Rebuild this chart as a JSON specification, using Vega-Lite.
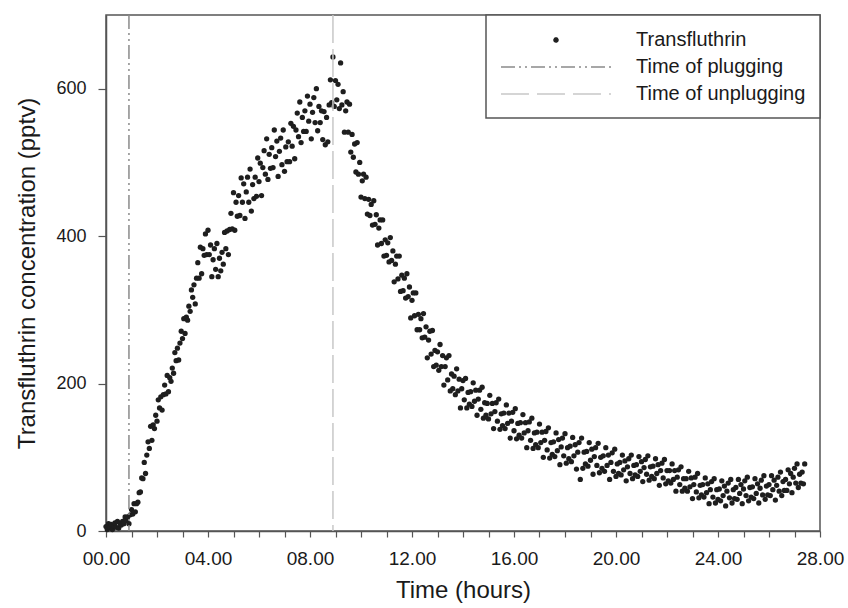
{
"$schema": "https://vega.github.io/schema/vega-lite/v6.json",
"width": 714, "height": 516,
"autosize": "none",
"padding": {"left": 106, "top": 15, "right": 28, "bottom": 77},
"background": "white",
"config": {"view": {"stroke": "#555", "strokeWidth": 1.5}, "font": "Liberation Sans"},
"datasets": {"obs": [
{"t":0,"c":6},{"t":0.05,"c":2},{"t":0.1,"c":10},{"t":0.15,"c":5},{"t":0.2,"c":9},{"t":0.25,"c":2},{"t":0.3,"c":7},{"t":0.35,"c":11},{"t":0.4,"c":5},{"t":0.45,"c":13},{"t":0.5,"c":4},{"t":0.55,"c":10},{"t":0.6,"c":8},{"t":0.65,"c":13},{"t":0.7,"c":10},{"t":0.75,"c":19},{"t":0.8,"c":14},{"t":0.85,"c":19},
{"t":0.9,"c":10},{"t":0.95,"c":22},{"t":1,"c":29},{"t":1.05,"c":23},{"t":1.1,"c":37},{"t":1.15,"c":26},{"t":1.2,"c":37},{"t":1.25,"c":39},{"t":1.3,"c":52},{"t":1.35,"c":53},{"t":1.4,"c":72},{"t":1.45,"c":71},
{"t":1.5,"c":93},{"t":1.55,"c":78},{"t":1.6,"c":103},{"t":1.65,"c":121},{"t":1.7,"c":112},{"t":1.75,"c":142},{"t":1.8,"c":123},{"t":1.85,"c":144},{"t":1.9,"c":139},{"t":1.95,"c":157},{"t":2,"c":149},{"t":2.05,"c":178},
{"t":2.1,"c":167},{"t":2.15,"c":182},{"t":2.2,"c":164},{"t":2.25,"c":185},{"t":2.3,"c":198},{"t":2.35,"c":186},{"t":2.4,"c":211},{"t":2.45,"c":189},
{"t":2.5,"c":208},{"t":2.55,"c":203},{"t":2.6,"c":221},{"t":2.65,"c":214},{"t":2.7,"c":242},{"t":2.75,"c":231},{"t":2.8,"c":248},{"t":2.85,"c":232},{"t":2.9,"c":255},{"t":2.95,"c":271},{"t":3,"c":261},{"t":3.05,"c":288},
{"t":3.1,"c":268},{"t":3.15,"c":290},{"t":3.2,"c":286},{"t":3.25,"c":305},{"t":3.3,"c":298},{"t":3.35,"c":327},{"t":3.4,"c":317},{"t":3.45,"c":334},{"t":3.5,"c":308},{"t":3.55,"c":343},{"t":3.6,"c":364},{"t":3.65,"c":343},
{"t":3.7,"c":385},{"t":3.75,"c":349},{"t":3.8,"c":383},{"t":3.85,"c":374},{"t":3.9,"c":403},{"t":3.95,"c":375},{"t":4,"c":408},{"t":4.05,"c":375},{"t":4.1,"c":388},{"t":4.15,"c":345},
{"t":4.2,"c":368},{"t":4.25,"c":383},{"t":4.3,"c":355},{"t":4.35,"c":390},{"t":4.4,"c":345},{"t":4.45,"c":370},{"t":4.5,"c":353},{"t":4.55,"c":378},{"t":4.6,"c":362},{"t":4.65,"c":405},{"t":4.7,"c":383},{"t":4.75,"c":407},
{"t":4.8,"c":375},{"t":4.85,"c":409},{"t":4.9,"c":431},{"t":4.95,"c":410},{"t":5,"c":459},{"t":5.05,"c":408},{"t":5.1,"c":446},{"t":5.15,"c":427},{"t":5.2,"c":455},{"t":5.25,"c":428},{"t":5.3,"c":479},{"t":5.35,"c":446},
{"t":5.4,"c":471},{"t":5.45,"c":424},{"t":5.5,"c":460},{"t":5.55,"c":480},{"t":5.6,"c":446},{"t":5.65,"c":491},{"t":5.7,"c":434},{"t":5.75,"c":470},{"t":5.8,"c":451},{"t":5.85,"c":480},{"t":5.9,"c":454},{"t":5.95,"c":506},
{"t":6,"c":474},{"t":6.05,"c":499},{"t":6.1,"c":455},{"t":6.15,"c":493},{"t":6.2,"c":516},{"t":6.25,"c":484},{"t":6.3,"c":532},{"t":6.35,"c":477},{"t":6.4,"c":511},{"t":6.45,"c":492},{"t":6.5,"c":520},{"t":6.55,"c":493},
{"t":6.6,"c":544},{"t":6.65,"c":508},{"t":6.7,"c":529},{"t":6.75,"c":481},{"t":6.8,"c":515},{"t":6.85,"c":533},{"t":6.9,"c":497},{"t":6.95,"c":544},{"t":7,"c":488},{"t":7.05,"c":521},{"t":7.1,"c":501},{"t":7.15,"c":528},
{"t":7.2,"c":501},{"t":7.25,"c":553},{"t":7.3,"c":522},{"t":7.35,"c":549},{"t":7.4,"c":505},{"t":7.45,"c":544},{"t":7.5,"c":567},{"t":7.55,"c":535},{"t":7.6,"c":582},{"t":7.65,"c":527},{"t":7.7,"c":561},{"t":7.75,"c":542},
{"t":7.8,"c":570},{"t":7.85,"c":542},{"t":7.9,"c":590},{"t":7.95,"c":556},{"t":8,"c":579},{"t":8.05,"c":532},{"t":8.1,"c":568},{"t":8.15,"c":588},{"t":8.2,"c":554},{"t":8.25,"c":600},{"t":8.3,"c":543},{"t":8.35,"c":576},
{"t":8.4,"c":554},{"t":8.45,"c":570},{"t":8.5,"c":531},{"t":8.55,"c":569},{"t":8.6,"c":524},{"t":8.65,"c":561},{"t":8.7,"c":528},{"t":8.75,"c":578},{"t":8.8,"c":612},{"t":8.85,"c":581},{"t":8.9,"c":643},{"t":8.95,"c":576},
{"t":9,"c":611},{"t":9.05,"c":585},{"t":9.1,"c":606},{"t":9.15,"c":573},{"t":9.2,"c":635},{"t":9.25,"c":578},{"t":9.3,"c":596},{"t":9.35,"c":541},{"t":9.4,"c":570},{"t":9.45,"c":582},{"t":9.5,"c":541},{"t":9.55,"c":579},
{"t":9.6,"c":514},{"t":9.65,"c":538},{"t":9.7,"c":507},{"t":9.75,"c":525},{"t":9.8,"c":487},{"t":9.85,"c":527},{"t":9.9,"c":484},{"t":9.95,"c":500},{"t":10,"c":453},{"t":10.05,"c":475},{"t":10.1,"c":484},{"t":10.15,"c":451},
{"t":10.2,"c":480},{"t":10.25,"c":430},{"t":10.3,"c":450},{"t":10.35,"c":428},{"t":10.4,"c":443},{"t":10.45,"c":415},{"t":10.5,"c":448},{"t":10.55,"c":416},{"t":10.6,"c":429},{"t":10.65,"c":388},{"t":10.7,"c":411},{"t":10.75,"c":422},
{"t":10.8,"c":390},{"t":10.85,"c":422},{"t":10.9,"c":373},{"t":10.95,"c":395},{"t":11,"c":374},{"t":11.05,"c":391},{"t":11.1,"c":365},{"t":11.15,"c":398},{"t":11.2,"c":367},{"t":11.25,"c":380},{"t":11.3,"c":338},{"t":11.35,"c":362},
{"t":11.4,"c":373},{"t":11.45,"c":342},{"t":11.5,"c":373},{"t":11.55,"c":325},{"t":11.6,"c":347},{"t":11.65,"c":326},{"t":11.7,"c":343},{"t":11.75,"c":316},{"t":11.8,"c":349},{"t":11.85,"c":318},{"t":11.9,"c":331},{"t":11.95,"c":289},
{"t":12,"c":313},{"t":12.05,"c":323},{"t":12.1,"c":292},{"t":12.15,"c":323},{"t":12.2,"c":273},{"t":12.25,"c":294},{"t":12.3,"c":273},{"t":12.35,"c":288},{"t":12.4,"c":262},{"t":12.45,"c":295},{"t":12.5,"c":263},{"t":12.55,"c":277},
{"t":12.6,"c":235},{"t":12.65,"c":259},{"t":12.7,"c":271},{"t":12.75,"c":240},{"t":12.8,"c":272},{"t":12.85,"c":223},{"t":12.9,"c":245},{"t":12.95,"c":225},{"t":13,"c":243},{"t":13.05,"c":218},{"t":13.1,"c":253},{"t":13.15,"c":223},
{"t":13.2,"c":238},{"t":13.25,"c":198},{"t":13.3,"c":223},{"t":13.35,"c":235},{"t":13.4,"c":205},{"t":13.45,"c":238},{"t":13.5,"c":190},{"t":13.55,"c":213},{"t":13.6,"c":193},{"t":13.65,"c":210},{"t":13.7,"c":185},{"t":13.75,"c":220},
{"t":13.8,"c":190},{"t":13.85,"c":206},{"t":13.9,"c":167},{"t":13.95,"c":193},{"t":14,"c":204},{"t":14.05,"c":178},{"t":14.1,"c":207},{"t":14.15,"c":167},{"t":14.2,"c":188},{"t":14.25,"c":172},{"t":14.3,"c":189},{"t":14.35,"c":169},
{"t":14.4,"c":201},{"t":14.45,"c":176},{"t":14.5,"c":191},{"t":14.55,"c":157},{"t":14.6,"c":179},{"t":14.65,"c":191},{"t":14.7,"c":165},{"t":14.75,"c":195},{"t":14.8,"c":153},{"t":14.85,"c":174},{"t":14.9,"c":157},{"t":14.95,"c":173},
{"t":15,"c":152},{"t":15.05,"c":184},{"t":15.1,"c":159},{"t":15.15,"c":173},{"t":15.2,"c":139},{"t":15.25,"c":162},{"t":15.3,"c":174},{"t":15.35,"c":149},{"t":15.4,"c":179},{"t":15.45,"c":138},
{"t":15.5,"c":159},{"t":15.55,"c":143},{"t":15.6,"c":160},{"t":15.65,"c":139},{"t":15.7,"c":171},{"t":15.75,"c":146},{"t":15.8,"c":160},{"t":15.85,"c":126},{"t":15.9,"c":149},{"t":15.95,"c":161},
{"t":16,"c":136},{"t":16.05,"c":166},{"t":16.1,"c":125},{"t":16.15,"c":146},{"t":16.2,"c":130},{"t":16.25,"c":147},{"t":16.3,"c":126},{"t":16.35,"c":158},{"t":16.4,"c":133},{"t":16.45,"c":147},
{"t":16.5,"c":113},{"t":16.55,"c":136},{"t":16.6,"c":148},{"t":16.65,"c":123},{"t":16.7,"c":153},{"t":16.75,"c":112},{"t":16.8,"c":133},{"t":16.85,"c":117},{"t":16.9,"c":134},{"t":16.95,"c":113},
{"t":17,"c":145},{"t":17.05,"c":120},{"t":17.1,"c":134},{"t":17.15,"c":100},{"t":17.2,"c":123},{"t":17.25,"c":135},{"t":17.3,"c":110},{"t":17.35,"c":140},{"t":17.4,"c":99},{"t":17.45,"c":120},
{"t":17.5,"c":104},{"t":17.55,"c":121},{"t":17.6,"c":101},{"t":17.65,"c":133},{"t":17.7,"c":109},{"t":17.75,"c":124},{"t":17.8,"c":90},{"t":17.85,"c":114},{"t":17.9,"c":126},{"t":17.95,"c":102},
{"t":18,"c":132},{"t":18.05,"c":92},{"t":18.1,"c":113},{"t":18.15,"c":98},{"t":18.2,"c":115},{"t":18.25,"c":94},{"t":18.3,"c":127},{"t":18.35,"c":102},{"t":18.4,"c":117},{"t":18.45,"c":84},
{"t":18.5,"c":107},{"t":18.55,"c":120},{"t":18.6,"c":70},{"t":18.65,"c":126},{"t":18.7,"c":85},{"t":18.75,"c":107},{"t":18.8,"c":91},{"t":18.85,"c":108},{"t":18.9,"c":88},{"t":18.95,"c":120},
{"t":19,"c":96},{"t":19.05,"c":111},{"t":19.1,"c":77},{"t":19.15,"c":101},{"t":19.2,"c":113},{"t":19.25,"c":89},{"t":19.3,"c":119},{"t":19.35,"c":79},{"t":19.4,"c":100},{"t":19.45,"c":85},
{"t":19.5,"c":102},{"t":19.55,"c":81},{"t":19.6,"c":113},{"t":19.65,"c":89},{"t":19.7,"c":103},{"t":19.75,"c":70},{"t":19.8,"c":93},{"t":19.85,"c":106},{"t":19.9,"c":81},{"t":19.95,"c":111},
{"t":20,"c":74},{"t":20.05,"c":91},{"t":20.1,"c":78},{"t":20.15,"c":93},{"t":20.2,"c":76},{"t":20.25,"c":103},{"t":20.3,"c":83},{"t":20.35,"c":95},{"t":20.4,"c":68},{"t":20.45,"c":87},
{"t":20.5,"c":98},{"t":20.55,"c":78},{"t":20.6,"c":103},{"t":20.65,"c":71},{"t":20.7,"c":89},{"t":20.75,"c":76},{"t":20.8,"c":90},{"t":20.85,"c":74},{"t":20.9,"c":101},{"t":20.95,"c":81},
{"t":21,"c":94},{"t":21.05,"c":67},{"t":21.1,"c":86},{"t":21.15,"c":97},{"t":21.2,"c":77},{"t":21.25,"c":102},{"t":21.3,"c":69},{"t":21.35,"c":87},{"t":21.4,"c":74},{"t":21.45,"c":88},
{"t":21.5,"c":71},{"t":21.55,"c":98},{"t":21.6,"c":78},{"t":21.65,"c":90},{"t":21.7,"c":62},{"t":21.75,"c":82},{"t":21.8,"c":92},{"t":21.85,"c":72},{"t":21.9,"c":97},{"t":21.95,"c":64},
{"t":22,"c":82},{"t":22.05,"c":68},{"t":22.1,"c":82},{"t":22.15,"c":65},{"t":22.2,"c":91},{"t":22.25,"c":70},{"t":22.3,"c":82},{"t":22.35,"c":54},{"t":22.4,"c":73},{"t":22.45,"c":83},
{"t":22.5,"c":63},{"t":22.55,"c":87},{"t":22.6,"c":54},{"t":22.65,"c":71},{"t":22.7,"c":58},{"t":22.75,"c":71},{"t":22.8,"c":54},{"t":22.85,"c":81},{"t":22.9,"c":60},{"t":22.95,"c":72},
{"t":23,"c":44},{"t":23.05,"c":63},{"t":23.1,"c":73},{"t":23.15,"c":53},{"t":23.2,"c":78},{"t":23.25,"c":45},{"t":23.3,"c":62},{"t":23.35,"c":49},{"t":23.4,"c":63},{"t":23.45,"c":46},
{"t":23.5,"c":72},{"t":23.55,"c":52},{"t":23.6,"c":64},{"t":23.65,"c":37},{"t":23.7,"c":56},{"t":23.75,"c":67},{"t":23.8,"c":46},{"t":23.85,"c":71},{"t":23.9,"c":38},{"t":23.95,"c":56},
{"t":24,"c":43},{"t":24.05,"c":57},{"t":24.1,"c":41},{"t":24.15,"c":68},{"t":24.2,"c":48},{"t":24.25,"c":61},{"t":24.3,"c":34},{"t":24.35,"c":54},{"t":24.4,"c":65},{"t":24.45,"c":45},
{"t":24.5,"c":70},{"t":24.55,"c":38},{"t":24.6,"c":56},{"t":24.65,"c":44},{"t":24.7,"c":59},{"t":24.75,"c":43},{"t":24.8,"c":70},{"t":24.85,"c":51},{"t":24.9,"c":63},{"t":24.95,"c":37},
{"t":25,"c":57},{"t":25.05,"c":68},{"t":25.1,"c":48},{"t":25.15,"c":73},{"t":25.2,"c":41},{"t":25.25,"c":59},{"t":25.3,"c":46},{"t":25.35,"c":60},{"t":25.4,"c":44},{"t":25.45,"c":71},
{"t":25.5,"c":51},{"t":25.55,"c":64},{"t":25.6,"c":38},{"t":25.65,"c":58},{"t":25.7,"c":69},{"t":25.75,"c":49},{"t":25.8,"c":75},{"t":25.85,"c":43},{"t":25.9,"c":61},{"t":25.95,"c":49},
{"t":26,"c":63},{"t":26.05,"c":48},{"t":26.1,"c":75},{"t":26.15,"c":56},{"t":26.2,"c":69},{"t":26.25,"c":42},{"t":26.3,"c":62},{"t":26.35,"c":73},{"t":26.4,"c":54},{"t":26.45,"c":80},
{"t":26.5,"c":48},{"t":26.55,"c":67},{"t":26.6,"c":55},{"t":26.65,"c":70},{"t":26.7,"c":55},{"t":26.75,"c":83},{"t":26.8,"c":64},{"t":26.85,"c":78},{"t":26.9,"c":52},{"t":26.95,"c":73},
{"t":27,"c":85},{"t":27.05,"c":65},{"t":27.1,"c":91},{"t":27.15,"c":59},{"t":27.2,"c":77},{"t":27.25,"c":65},{"t":27.3,"c":80},{"t":27.35,"c":64},{"t":27.4,"c":91}
],
"events": [{"t": 0.9, "series": "Time of plugging"}, {"t": 8.9, "series": "Time of unplugging"}]
},
"encoding": {
  "x": {"field": "t", "type": "quantitative", "scale": {"domain": [0, 28], "nice": false, "zero": false},
    "axis": {"values": [0,1,2,3,4,5,6,7,8,9,10,11,12,13,14,15,16,17,18,19,20,21,22,23,24,25,26,27,28],
      "labelExpr": "datum.value % 4 === 0 ? (datum.value < 10 ? '0' : '') + datum.value + '.00' : ''",
      "labelFontSize": 19, "labelColor": "#1a1a1a", "labelPadding": 12, "labelFlush": false, "labelOverlap": false, "labelBound": false,
      "tickSize": 6, "tickColor": "#555", "tickWidth": 1.2, "domainColor": "#555", "domainWidth": 1.5, "grid": false,
      "title": "Time (hours)", "titleFontSize": 24, "titleFontWeight": "normal", "titleColor": "#1a1a1a", "titlePadding": 10}}
},
"layer": [
  {
    "data": {"name": "obs"},
    "mark": {"type": "point", "filled": true, "size": 28, "opacity": 1, "strokeWidth": 0},
    "encoding": {
      "y": {"field": "c", "type": "quantitative", "scale": {"domain": [0, 700], "nice": false},
        "axis": {"values": [0, 200, 400, 600], "labelFontSize": 18, "labelColor": "#1a1a1a", "labelPadding": 12,
          "tickSize": 8, "tickColor": "#555", "tickWidth": 1.2, "domainColor": "#555", "domainWidth": 1.5, "grid": false,
          "title": "Transfluthrin concentration (pptv)", "titleFontSize": 24, "titleFontWeight": "normal", "titleColor": "#1a1a1a", "titlePadding": 16}},
      "color": {"datum": "Transfluthrin", "type": "nominal"}
    }
  },
  {
    "data": {"name": "events"},
    "mark": {"type": "rule", "strokeWidth": 1.5},
    "encoding": {
      "color": {"field": "series", "type": "nominal",
        "scale": {"domain": ["Transfluthrin", "Time of plugging", "Time of unplugging"], "range": ["#1e1e1e", "#8a8a8a", "#c8c8c8"]},
        "legend": {"title": null, "orient": "top-right", "offset": 0, "padding": 14, "strokeColor": "#555", "fillColor": "white",
          "labelFontSize": 20, "labelFont": "Liberation Sans", "labelColor": "#1a1a1a", "labelLimit": 400, "labelOffset": 114,
          "symbolSize": 400, "rowPadding": 6,
          "encode": {
            "legend": {"update": {"strokeWidth": {"value": 1.5}}},
            "symbols": {"update": {
            "shape": {"signal": "datum.value === 'Transfluthrin' ? 'circle' : 'M-5.5,0H5.5'"},
            "size": {"signal": "datum.value === 'Transfluthrin' ? 16 : 400"},
            "x": {"value": 56},
            "fill": {"signal": "datum.value === 'Transfluthrin' ? '#1e1e1e' : 'transparent'"},
            "stroke": {"signal": "datum.value === 'Transfluthrin' ? 'transparent' : datum.value === 'Time of plugging' ? '#8a8a8a' : '#c8c8c8'"},
            "strokeWidth": {"value": 1.5},
            "strokeDash": {"signal": "datum.value === 'Time of plugging' ? [14,4,2,4,2,4] : datum.value === 'Time of unplugging' ? [28,8] : [1,0]"},
            "opacity": {"value": 1}
          }}}}},
      "strokeDash": {"field": "series", "type": "nominal",
        "scale": {"domain": ["Time of plugging", "Time of unplugging"], "range": [[14,4,2,4,2,4],[28,6]]}, "legend": null}
    }
  }
]
}
